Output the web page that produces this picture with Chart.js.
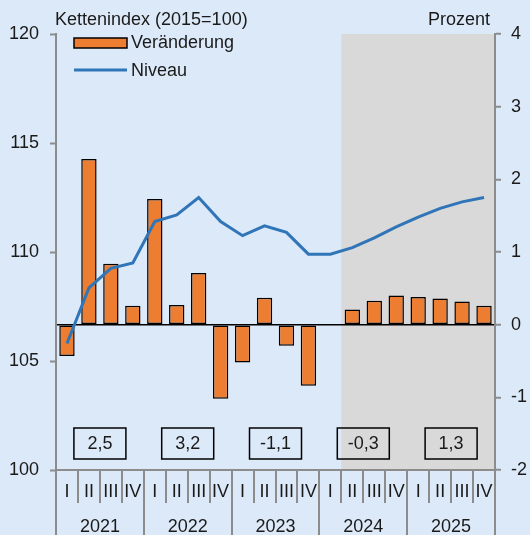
<!DOCTYPE html>
<html>
<head>
<meta charset="utf-8">
<script src="https://cdn.jsdelivr.net/npm/chart.js@4/dist/chart.umd.min.js"></script>
<style>
  html, body { margin: 0; padding: 0; background: #dce9f8; }
</style>
</head>
<body>
<canvas id="bipChart" width="530" height="535"></canvas>
<script>
// Quartale und Jahre
var quarters = ['I','II','III','IV','I','II','III','IV','I','II','III','IV','I','II','III','IV','I','II','III','IV'];
var years = ['2021','2022','2023','2024','2025'];
// Veraenderung gegenueber Vorquartal (Prozent, rechte Achse)
var veraenderung = [-0.43, 2.28, 0.84, 0.26, 1.73, 0.27, 0.71, -1.02, -0.52, 0.37, -0.29, -0.84, 0.0, 0.21, 0.33, 0.40, 0.38, 0.36, 0.32, 0.26];
// Niveau, Kettenindex 2015=100 (linke Achse)
var niveau = [105.8, 108.35, 109.25, 109.5, 111.4, 111.7, 112.5, 111.4, 110.75, 111.2, 110.9, 109.9, 109.9, 110.2, 110.65, 111.15, 111.6, 112.0, 112.3, 112.5];
// Jahresraten
var jahresraten = ['2,5', '3,2', '-1,1', '-0,3', '1,3'];
var prognoseStart = 13; // ab 2024 II grau hinterlegt

var FONT = '"Liberation Sans", Arial, sans-serif';
var TXT = '#1a1a1a';
var AXIS = '#8c8c8c';
var ORANGE = '#ed7d31';
var BLUE = '#2f75b8';

Chart.defaults.font.family = FONT;
Chart.defaults.font.size = 18;
Chart.defaults.color = TXT;

var extras = {
  id: 'extras',
  beforeDraw: function (chart) {
    var ctx = chart.ctx, a = chart.chartArea, x = chart.scales.x;
    ctx.save();
    ctx.fillStyle = '#dce9f8';
    ctx.fillRect(0, 0, chart.width, chart.height);
    var sx = x.getPixelForValue(prognoseStart - 0.5);
    ctx.fillStyle = '#d9d9d9';
    ctx.fillRect(sx, a.top, a.right - sx, a.bottom - a.top);
    ctx.restore();
  },
  afterDatasetsDraw: function (chart) {
    var ctx = chart.ctx, a = chart.chartArea, x = chart.scales.x;
    ctx.save();
    ctx.strokeStyle = '#000';
    ctx.lineWidth = 1.5;
    ctx.fillStyle = TXT;
    ctx.font = '18px ' + FONT;
    ctx.textAlign = 'center';
    ctx.textBaseline = 'middle';
    for (var k = 0; k < years.length; k++) {
      var cx = x.getPixelForValue(k * 4 + 1.5);
      ctx.strokeRect(cx - 26, a.bottom - 42, 52, 31);
      ctx.fillText(jahresraten[k], cx, a.bottom - 26);
    }
    ctx.restore();
  },
  afterDraw: function (chart) {
    var ctx = chart.ctx, a = chart.chartArea, x = chart.scales.x;
    ctx.save();
    // Trennlinien unter der Achse
    ctx.strokeStyle = AXIS;
    ctx.lineWidth = 2;
    for (var i = 0; i <= quarters.length; i++) {
      var px = Math.round(x.getPixelForValue(i - 0.5));
      ctx.beginPath();
      ctx.moveTo(px, a.bottom);
      ctx.lineTo(px, i % 4 === 0 ? chart.height : a.bottom + 33);
      ctx.stroke();
    }
    // Achsentitel
    ctx.fillStyle = TXT;
    ctx.font = '18px ' + FONT;
    ctx.textBaseline = 'middle';
    ctx.textAlign = 'left';
    ctx.fillText('Kettenindex (2015=100)', a.left - 1, 20);
    ctx.textAlign = 'right';
    ctx.fillText('Prozent', a.right - 5, 20);
    // Legende
    var lx = a.left + 18;
    ctx.fillStyle = ORANGE;
    ctx.fillRect(lx, 38, 53, 10);
    ctx.strokeStyle = '#000';
    ctx.lineWidth = 1.5;
    ctx.strokeRect(lx, 38, 53, 10);
    ctx.strokeStyle = BLUE;
    ctx.lineWidth = 3;
    ctx.beginPath();
    ctx.moveTo(lx, 70);
    ctx.lineTo(lx + 53, 70);
    ctx.stroke();
    ctx.fillStyle = TXT;
    ctx.textAlign = 'left';
    ctx.fillText('Veränderung', lx + 57, 43);
    ctx.fillText('Niveau', lx + 57, 71);
    ctx.restore();
  }
};

var canvas = document.getElementById('bipChart');
var bipChart = new Chart(canvas, {
  type: 'bar',
  data: {
    labels: quarters,
    datasets: [{
      label: 'Niveau',
      type: 'line',
      data: niveau,
      yAxisID: 'y',
      borderColor: BLUE,
      borderWidth: 3,
      pointRadius: 0,
      tension: 0,
      order: 0
    }, {
      label: 'Veränderung',
      data: veraenderung,
      yAxisID: 'y2',
      backgroundColor: ORANGE,
      borderColor: '#000',
      borderWidth: 1.5,
      borderSkipped: false,
      barPercentage: 0.7,
      categoryPercentage: 1,
      order: 1
    }]
  },
  options: {
    responsive: false,
    animation: false,
    layout: { padding: { top: 34, left: 0, right: 0, bottom: 0 } },
    plugins: { legend: { display: false }, tooltip: { enabled: false } },
    scales: {
      x: {
        position: 'bottom',
        offset: true,
        grid: { display: false, drawTicks: false },
        border: { display: true, color: AXIS, width: 2 },
        ticks: { padding: 11, autoSkip: false, maxRotation: 0, minRotation: 0 },
        afterFit: function (s) { s.height = 36; }
      },
      x2: {
        type: 'category',
        labels: years,
        position: 'bottom',
        offset: true,
        grid: { display: false, drawTicks: false },
        border: { display: false },
        ticks: { padding: 10, autoSkip: false, maxRotation: 0, minRotation: 0 },
        afterFit: function (s) { s.height = 29; }
      },
      y: {
        position: 'left',
        min: 100,
        max: 120,
        ticks: { stepSize: 5, padding: 11 },
        grid: { drawOnChartArea: false, tickLength: 6, tickColor: AXIS, tickWidth: 2 },
        border: { color: AXIS, width: 2 },
        afterFit: function (s) { s.width = 56; }
      },
      y2: {
        position: 'right',
        min: -2,
        max: 4,
        ticks: { stepSize: 1, padding: 10 },
        grid: {
          drawOnChartArea: true,
          tickLength: 6,
          tickColor: AXIS,
          tickWidth: 2,
          lineWidth: 1.5,
          color: function (c) { return c.tick && c.tick.value === 0 ? '#000' : 'rgba(0,0,0,0)'; }
        },
        border: { color: AXIS, width: 2 },
        afterFit: function (s) { s.width = 35; }
      }
    }
  },
  plugins: [extras]
});
</script>
</body>
</html>
